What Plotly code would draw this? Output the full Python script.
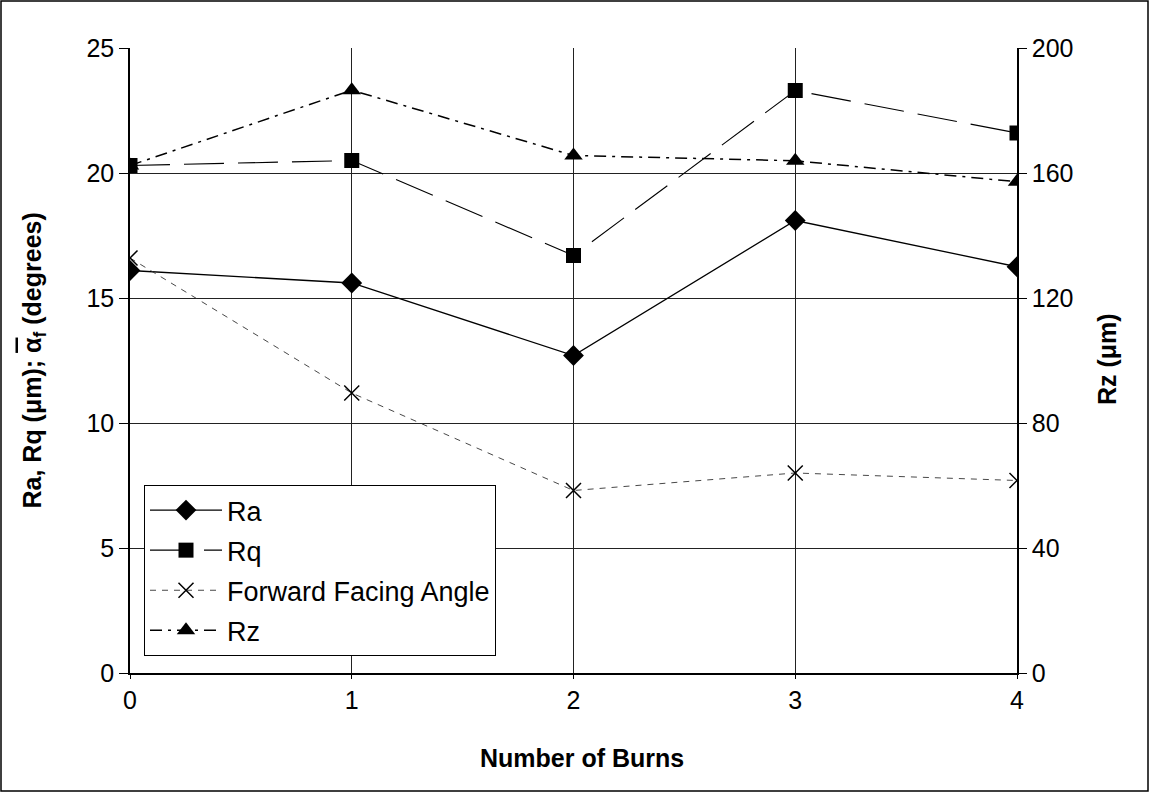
import plotly.graph_objects as go

burns = [0, 1, 2, 3, 4]
ra = [16.1, 15.6, 12.7, 18.1, 16.25]
rq = [20.3, 20.5, 16.7, 23.3, 21.6]
ffa = [16.6, 11.2, 7.3, 8.0, 7.7]
rz = [162.4, 186.5, 165.6, 163.9, 157.2]

x_title = "<b>Number of Burns</b>"
y_title = "<b>Ra, Rq (\u03bcm); <span style=\"text-decoration:overline\">\u03b1</span><sub>f</sub> (degrees)</b>"
y2_title = "<b>Rz (\u03bcm)</b>"

FONT = "Liberation Sans, Arial, sans-serif"
PW, PH = 887, 625  # plot area size in px

fig = go.Figure()
fig.add_trace(go.Scatter(x=burns, y=ra, name="Ra", mode="lines+markers", legendgroup="a",
                         line=dict(color="black", width=1.3),
                         marker=dict(symbol="diamond", size=16, color="black")))
fig.add_trace(go.Scatter(x=burns, y=rq, name="Rq", mode="lines+markers", legendgroup="b",
                         line=dict(color="black", width=1.1, dash="40px,14px"),
                         marker=dict(symbol="square", size=15, color="black")))
fig.add_trace(go.Scatter(x=burns, y=ffa, name="Forward Facing Angle", mode="lines+markers", legendgroup="c",
                         line=dict(color="#333", width=0.9, dash="6px,6px"),
                         marker=dict(symbol="x-thin-open", size=15, color="black",
                                     line=dict(color="black", width=1.5))))
fig.add_trace(go.Scatter(x=burns, y=rz, name="Rz", mode="lines+markers", yaxis="y2", legendgroup="d",
                         line=dict(color="black", width=1.5, dash="12px,6px,3px,6px"),
                         marker=dict(symbol="triangle-up", size=16, color="black")))

fig.update_layout(
    width=1150, height=793,
    margin=dict(l=130, r=133, t=48, b=120),
    paper_bgcolor="white", plot_bgcolor="white",
    font=dict(family=FONT, size=26, color="black"),
    showlegend=True,
    legend=dict(x=14 / PW, y=1 - (485 - 48) / PH, xanchor="left", yanchor="top",
                bordercolor="black", borderwidth=1, bgcolor="white",
                font=dict(size=27), tracegroupgap=2, itemwidth=72),
    xaxis=dict(range=[0, 4], tickvals=burns, showgrid=True, gridcolor="#222", gridwidth=1,
               zeroline=False, showline=True, linecolor="black", linewidth=1.5,
               ticks="outside", ticklen=4, tickcolor="black", automargin=False,
               tickfont=dict(size=25)),
    yaxis=dict(range=[0, 25], dtick=5, showgrid=True, gridcolor="#222", gridwidth=1,
               zeroline=False, showline=True, linecolor="black", linewidth=1.5,
               ticks="outside", ticklen=9, tickcolor="black", automargin=False,
               tickfont=dict(size=25)),
    yaxis2=dict(range=[0, 200], dtick=40, overlaying="y", side="right", showgrid=False,
                zeroline=False, showline=True, linecolor="black", linewidth=1.5,
                ticks="outside", ticklen=8, tickcolor="black", automargin=False,
                tickfont=dict(size=25)),
)

fig.add_annotation(text=x_title, xref="paper", yref="paper", x=(582 - 130) / PW, y=-(758 - 673) / PH,
                   showarrow=False, xanchor="center", yanchor="middle", font=dict(size=25))
fig.add_annotation(text=y_title, xref="paper", yref="paper", x=-(130 - 33) / PW, y=0.5,
                   showarrow=False, xanchor="center", yanchor="middle", textangle=-90, font=dict(size=25))
fig.add_annotation(text=y2_title, xref="paper", yref="paper", x=1 + (1107 - 1017) / PW, y=1 - (359 - 48) / PH,
                   showarrow=False, xanchor="center", yanchor="middle", textangle=-90, font=dict(size=25))

fig.add_shape(type="rect", xref="paper", yref="paper", x0=-129 / PW, x1=1 + 131 / PW,
              y0=-118 / PH, y1=1 + 47 / PH, line=dict(color="black", width=1.5))

fig.write_html("out.html", config={"displayModeBar": False},
               post_script="document.body.style.margin='0';")
